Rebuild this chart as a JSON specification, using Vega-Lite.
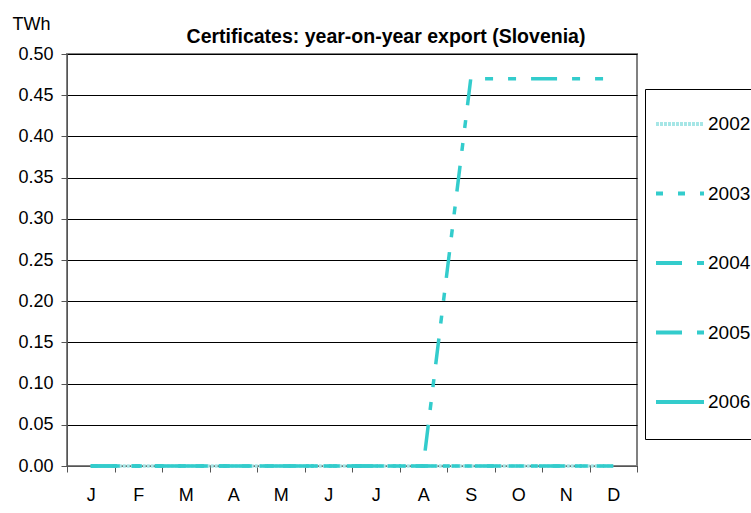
{
  "$schema": "https://vega.github.io/schema/vega-lite/v6.json",
  "autosize": {"type": "none"},
  "padding": {"left": 67, "top": 54, "right": 114, "bottom": 47},
  "width": 570,
  "height": 412,
  "background": "white",
  "title": {
    "text": "Certificates: year-on-year export (Slovenia)",
    "font": "Liberation Sans",
    "fontSize": 19.5,
    "fontWeight": "bold",
    "color": "black",
    "anchor": "middle",
    "dx": 34,
    "dy": 40,
    "offset": 8
  },
  "config": {
    "view": {"stroke": "#808080", "strokeWidth": 2},
    "font": "Liberation Sans",
    "axis": {
      "labelFont": "Liberation Sans",
      "labelFontSize": 18,
      "labelColor": "black",
      "titleFont": "Liberation Sans",
      "titleFontSize": 18,
      "titleFontWeight": "normal",
      "titleColor": "black",
      "domainColor": "#555555",
      "tickColor": "#555555",
      "tickSize": 6,
      "gridColor": "black",
      "gridWidth": 1,
      "gridOpacity": 1
    }
  },
  "data": {
    "values": [
      {"year": "2002", "month": "Jan", "value": 0}, {"year": "2002", "month": "Feb", "value": 0}, {"year": "2002", "month": "Mar", "value": 0}, {"year": "2002", "month": "Apr", "value": 0}, {"year": "2002", "month": "May", "value": 0}, {"year": "2002", "month": "Jun", "value": 0}, {"year": "2002", "month": "Jul", "value": 0}, {"year": "2002", "month": "Aug", "value": 0}, {"year": "2002", "month": "Sep", "value": 0}, {"year": "2002", "month": "Oct", "value": 0}, {"year": "2002", "month": "Nov", "value": 0}, {"year": "2002", "month": "Dec", "value": 0},
      {"year": "2003", "month": "Jan", "value": 0}, {"year": "2003", "month": "Feb", "value": 0}, {"year": "2003", "month": "Mar", "value": 0}, {"year": "2003", "month": "Apr", "value": 0}, {"year": "2003", "month": "May", "value": 0}, {"year": "2003", "month": "Jun", "value": 0}, {"year": "2003", "month": "Jul", "value": 0}, {"year": "2003", "month": "Aug", "value": 0}, {"year": "2003", "month": "Sep", "value": 0}, {"year": "2003", "month": "Oct", "value": 0}, {"year": "2003", "month": "Nov", "value": 0}, {"year": "2003", "month": "Dec", "value": 0},
      {"year": "2004", "month": "Jan", "value": 0}, {"year": "2004", "month": "Feb", "value": 0}, {"year": "2004", "month": "Mar", "value": 0}, {"year": "2004", "month": "Apr", "value": 0}, {"year": "2004", "month": "May", "value": 0}, {"year": "2004", "month": "Jun", "value": 0}, {"year": "2004", "month": "Jul", "value": 0}, {"year": "2004", "month": "Aug", "value": 0}, {"year": "2004", "month": "Sep", "value": 0}, {"year": "2004", "month": "Oct", "value": 0}, {"year": "2004", "month": "Nov", "value": 0}, {"year": "2004", "month": "Dec", "value": 0},
      {"year": "2005", "month": "Jan", "value": 0}, {"year": "2005", "month": "Feb", "value": 0}, {"year": "2005", "month": "Mar", "value": 0}, {"year": "2005", "month": "Apr", "value": 0}, {"year": "2005", "month": "May", "value": 0}, {"year": "2005", "month": "Jun", "value": 0}, {"year": "2005", "month": "Jul", "value": 0}, {"year": "2005", "month": "Aug", "value": 0}, {"year": "2005", "month": "Sep", "value": 0.47}, {"year": "2005", "month": "Oct", "value": 0.47}, {"year": "2005", "month": "Nov", "value": 0.47}, {"year": "2005", "month": "Dec", "value": 0.47}
    ]
  },
  "mark": {"type": "line", "strokeWidth": 3.5, "clip": false},
  "encoding": {
    "x": {
      "field": "month",
      "type": "ordinal",
      "bandPosition": 0.5,
      "scale": {
        "type": "band",
        "paddingInner": 0,
        "paddingOuter": 0,
        "domain": ["Jan", "Feb", "Mar", "Apr", "May", "Jun", "Jul", "Aug", "Sep", "Oct", "Nov", "Dec"]
      },
      "axis": {
        "title": null,
        "labelAngle": 0,
        "tickBand": "extent",
        "labelPadding": 14,
        "grid": false,
        "labelExpr": "substring(datum.label, 0, 1)"
      }
    },
    "y": {
      "field": "value",
      "type": "quantitative",
      "scale": {"domain": [0, 0.5], "nice": false, "zero": true},
      "axis": {
        "title": "TWh",
        "titleAngle": 0,
        "titleAlign": "left",
        "titleBaseline": "alphabetic",
        "titleX": -55,
        "titleY": -25,
        "values": [0, 0.05, 0.1, 0.15, 0.2, 0.25, 0.3, 0.35, 0.4, 0.45, 0.5],
        "format": ".2f",
        "labelPadding": 8,
        "grid": true
      }
    },
    "color": {
      "field": "year",
      "type": "nominal",
      "scale": {
        "domain": ["2002", "2003", "2004", "2005", "2006"],
        "range": ["#A6E6E6", "#33CCCC", "#33CCCC", "#33CCCC", "#33CCCC"]
      },
      "legend": {
        "title": " ",
        "titleOrient": "bottom",
        "titleFontSize": 10,
        "titlePadding": 8,
        "orient": "none",
        "legendX": 578,
        "legendY": 35,
        "symbolType": "stroke",
        "symbolSize": 2304,
        "symbolStrokeWidth": 4,
        "labelFont": "Liberation Sans",
        "labelFontSize": 19,
        "labelColor": "black",
        "labelOffset": 2,
        "rowPadding": 33.5,
        "padding": 9,
        "strokeColor": "black",
        "fillColor": "white",
        "cornerRadius": 0
      }
    },
    "strokeDash": {
      "field": "year",
      "type": "nominal",
      "scale": {
        "domain": ["2002", "2003", "2004", "2005", "2006"],
        "range": [[3, 1], [7, 15], [26, 15, 8, 15], [26, 15, 8, 15, 8, 15], [1, 0]]
      }
    }
  }
}
